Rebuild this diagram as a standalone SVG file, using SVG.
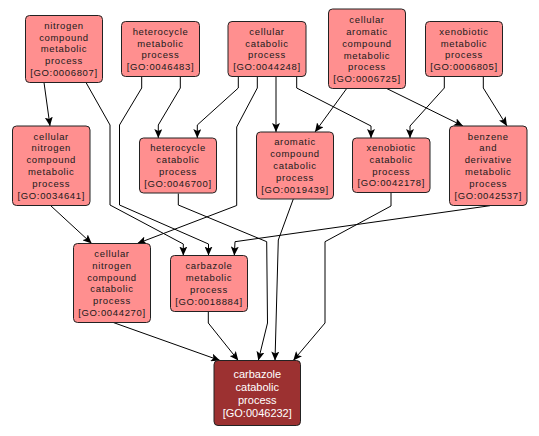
<svg xmlns="http://www.w3.org/2000/svg" width="539" height="436" viewBox="0 0 539 436">
<style>
.n rect{fill:#ff8f8f;stroke:#222;stroke-width:1}
.n text{font-family:"Liberation Sans",Arial,sans-serif;font-size:9.5px;letter-spacing:0.65px;fill:#1a1a1a;text-anchor:middle}
.d rect{fill:#9c3131;stroke:#222;stroke-width:1}
.d text{font-family:"Liberation Sans",Arial,sans-serif;font-size:11px;fill:#fff;text-anchor:middle}
.e polyline{fill:none;stroke:#000;stroke-width:1;marker-end:url(#a)}
</style>
<defs>
<marker id="a" markerUnits="userSpaceOnUse" markerWidth="10" markerHeight="8" refX="9" refY="4" orient="auto" viewBox="0 0 10 8">
<path d="M0,0 L9,4 L0,8 L2,4 z" fill="#000"/>
</marker>
</defs>
<rect width="539" height="436" fill="#fff"/>
<g id="edges" class="e">
<polyline points="44,82.5 50,126"/>
<polyline points="86,82.5 110,125 110,205 183.3,244 183.3,255.5"/>
<polyline points="180.3,76.5 180.3,88 158.3,125 158.3,138"/>
<polyline points="141.7,76.5 141.7,88 119.5,125 119.5,205 208.5,244 208.5,255.5"/>
<polyline points="238.3,76.5 238.3,88 197.3,125 197.3,138"/>
<polyline points="257.3,76.5 257.3,88 236.7,127 236.7,205.5 137.3,243.5"/>
<polyline points="276,76.5 276,132"/>
<polyline points="296.7,76.5 296.7,88 371,126 371,138"/>
<polyline points="346.7,88.5 315,132"/>
<polyline points="386.7,88.5 463,126"/>
<polyline points="444.3,76.5 444.3,88 410,126 410,138"/>
<polyline points="483.3,76.5 483.3,88 507,126"/>
<polyline points="50.7,205.7 91.7,243.5"/>
<polyline points="178.3,193.5 178.3,205 266.7,241.7 267.5,323 258.3,360.5"/>
<polyline points="293.3,199 278.3,240 275,360.5"/>
<polyline points="391,192.5 391,206 325,241.7 325,323 293.3,360.5"/>
<polyline points="490,205.7 235,241.7 234.3,255.5"/>
<polyline points="113.3,322.5 220,360.5"/>
<polyline points="208.3,311.5 208.3,323 238.3,360.5"/>
</g>
<g id="n1" class="n"><rect x="25.5" y="15.5" width="77" height="67" rx="4"/>
<text x="64" y="28.8">nitrogen</text><text x="64" y="40.6">compound</text><text x="64" y="52.4">metabolic</text><text x="64" y="64.2">process</text><text x="64" y="76">[GO:0006807]</text></g>
<g id="n2" class="n"><rect x="121.5" y="21.5" width="78" height="55" rx="4"/>
<text x="160.5" y="34.7">heterocycle</text><text x="160.5" y="46.5">metabolic</text><text x="160.5" y="58.3">process</text><text x="160.5" y="70.1">[GO:0046483]</text></g>
<g id="n3" class="n"><rect x="228" y="21.5" width="78" height="55" rx="4"/>
<text x="267" y="34.7">cellular</text><text x="267" y="46.5">catabolic</text><text x="267" y="58.3">process</text><text x="267" y="70.1">[GO:0044248]</text></g>
<g id="n4" class="n"><rect x="328.5" y="9" width="77" height="79.5" rx="4"/>
<text x="367" y="23.2">cellular</text><text x="367" y="35">aromatic</text><text x="367" y="46.8">compound</text><text x="367" y="58.6">metabolic</text><text x="367" y="70.4">process</text><text x="367" y="82.2">[GO:0006725]</text></g>
<g id="n5" class="n"><rect x="425.5" y="21.5" width="77" height="55" rx="4"/>
<text x="464" y="34.7">xenobiotic</text><text x="464" y="46.5">metabolic</text><text x="464" y="58.3">process</text><text x="464" y="70.1">[GO:0006805]</text></g>
<g id="n6" class="n"><rect x="12.5" y="126" width="77.5" height="79.5" rx="4"/>
<text x="51.25" y="139.65">cellular</text><text x="51.25" y="151.45">nitrogen</text><text x="51.25" y="163.25">compound</text><text x="51.25" y="175.05">metabolic</text><text x="51.25" y="186.85">process</text><text x="51.25" y="198.65">[GO:0034641]</text></g>
<g id="n7" class="n"><rect x="139.5" y="138" width="77" height="55" rx="4"/>
<text x="178" y="151.2">heterocycle</text><text x="178" y="163">catabolic</text><text x="178" y="174.8">process</text><text x="178" y="186.6">[GO:0046700]</text></g>
<g id="n8" class="n"><rect x="256.5" y="132" width="77" height="67" rx="4"/>
<text x="295" y="145.3">aromatic</text><text x="295" y="157.1">compound</text><text x="295" y="168.9">catabolic</text><text x="295" y="180.7">process</text><text x="295" y="192.5">[GO:0019439]</text></g>
<g id="n9" class="n"><rect x="352.5" y="138" width="77.5" height="54.5" rx="4"/>
<text x="391.25" y="150.95">xenobiotic</text><text x="391.25" y="162.75">catabolic</text><text x="391.25" y="174.55">process</text><text x="391.25" y="186.35">[GO:0042178]</text></g>
<g id="n10" class="n"><rect x="449.5" y="126" width="77.5" height="79.5" rx="4"/>
<text x="488.25" y="139.65">benzene</text><text x="488.25" y="151.45">and</text><text x="488.25" y="163.25">derivative</text><text x="488.25" y="175.05">metabolic</text><text x="488.25" y="186.85">process</text><text x="488.25" y="198.65">[GO:0042537]</text></g>
<g id="n11" class="n"><rect x="73.5" y="243.5" width="77" height="79" rx="4"/>
<text x="112" y="256.9">cellular</text><text x="112" y="268.7">nitrogen</text><text x="112" y="280.5">compound</text><text x="112" y="292.3">catabolic</text><text x="112" y="304.1">process</text><text x="112" y="315.9">[GO:0044270]</text></g>
<g id="n12" class="n"><rect x="170.5" y="255.5" width="77" height="56" rx="4"/>
<text x="209" y="269.2">carbazole</text><text x="209" y="281">metabolic</text><text x="209" y="292.8">process</text><text x="209" y="304.6">[GO:0018884]</text></g>
<g id="n13" class="d"><rect x="214" y="360.5" width="86.5" height="65" rx="4"/>
<text x="257.25" y="377.5">carbazole</text><text x="257.25" y="390.8">catabolic</text><text x="257.25" y="404.1">process</text><text x="257.25" y="417.4">[GO:0046232]</text></g>
</svg>
